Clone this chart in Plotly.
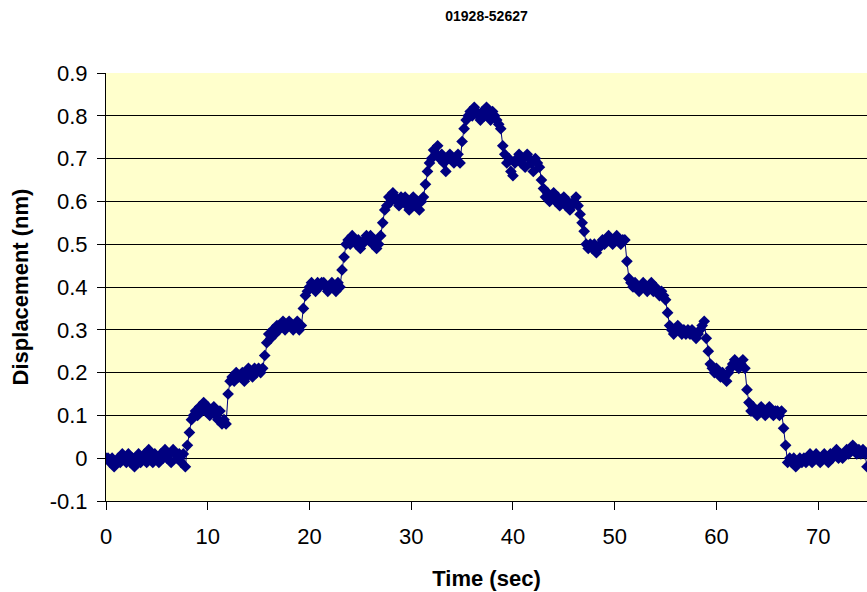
import plotly.graph_objects as go

sample_interval = 0.2  # seconds between samples

seg0 = [0.00, 0.00, -0.01, 0.00, -0.02, -0.01, 0.00, -0.01, 0.01, 0.00,
        -0.01, 0.01, -0.01, 0.00, -0.02, 0.00, 0.01, -0.01, 0.00, 0.01,
        -0.01, 0.02, 0.00, -0.01, 0.01, 0.00, -0.01, 0.01, 0.00, 0.02,
        0.00, 0.01, -0.01, 0.02, 0.01, 0.00, 0.01, -0.01, 0.01, -0.02]
tr0 = [0.03, 0.06, 0.09]
seg1 = [0.10, 0.11, 0.10, 0.12, 0.11, 0.13, 0.11, 0.12, 0.10, 0.11, 0.12, 0.10, 0.09, 0.11, 0.08, 0.09, 0.08]
tr1 = [0.15, 0.18]
seg2 = [0.19, 0.18, 0.20, 0.19, 0.19, 0.20, 0.18, 0.19, 0.21, 0.20, 0.19, 0.21, 0.20, 0.21, 0.20, 0.21]
tr2 = [0.24, 0.27]
seg3 = [0.29, 0.28, 0.30, 0.29, 0.31, 0.30, 0.31, 0.32, 0.30, 0.31, 0.32, 0.31, 0.30, 0.31, 0.32, 0.30, 0.31]
tr3 = [0.35, 0.38]
seg4 = [0.39, 0.40, 0.41, 0.40, 0.39, 0.41, 0.40, 0.41, 0.41, 0.40, 0.39, 0.40, 0.41, 0.40, 0.39, 0.41, 0.40]
tr4 = [0.44, 0.47]
seg5 = [0.50, 0.51, 0.50, 0.52, 0.51, 0.50, 0.51, 0.49, 0.50, 0.51, 0.52, 0.51, 0.52, 0.50, 0.51, 0.49, 0.50, 0.52]
tr5 = [0.55, 0.58]
seg6 = [0.59, 0.61, 0.60, 0.62, 0.61, 0.60, 0.59, 0.61, 0.60, 0.61, 0.59, 0.58, 0.60, 0.61, 0.59, 0.60, 0.58, 0.60, 0.61]
tr6 = [0.64, 0.67]
seg7 = [0.69, 0.70, 0.72, 0.71, 0.73, 0.70, 0.71, 0.69, 0.67, 0.70, 0.71, 0.70, 0.69, 0.70, 0.71, 0.69]
tr7 = [0.74, 0.77]
seg8 = [0.79, 0.80, 0.81, 0.80, 0.82, 0.81, 0.80, 0.79, 0.81, 0.80, 0.82, 0.80, 0.79, 0.81, 0.80, 0.79, 0.78, 0.77]
tr8 = [0.73, 0.71]
seg9 = [0.69, 0.70, 0.67, 0.66, 0.69, 0.70, 0.71, 0.69, 0.70, 0.68, 0.71, 0.70, 0.69, 0.67, 0.70, 0.69, 0.68]
tr9 = [0.65, 0.63]
seg10 = [0.61, 0.62, 0.60, 0.61, 0.62, 0.60, 0.61, 0.59, 0.60, 0.61, 0.59, 0.60, 0.58, 0.59, 0.60, 0.61, 0.59, 0.57]
tr10 = [0.55, 0.53]
seg11 = [0.50, 0.49, 0.50, 0.49, 0.50, 0.48, 0.49, 0.50, 0.51, 0.50, 0.51, 0.52, 0.51, 0.50, 0.51, 0.52, 0.51, 0.50, 0.51, 0.51]
tr11 = [0.46, 0.42]
seg12 = [0.41, 0.40, 0.41, 0.40, 0.39, 0.40, 0.41, 0.40, 0.39, 0.40, 0.41, 0.39, 0.40, 0.39, 0.38, 0.39, 0.38, 0.37]
tr12 = [0.34, 0.31]
seg13 = [0.30, 0.29, 0.30, 0.31, 0.30, 0.29, 0.30, 0.29, 0.30, 0.29, 0.30, 0.29, 0.28, 0.29, 0.30, 0.31, 0.32]
tr13 = [0.28, 0.25]
seg14 = [0.22, 0.21, 0.20, 0.21, 0.20, 0.19, 0.20, 0.19, 0.18, 0.20, 0.21, 0.22, 0.23, 0.22, 0.21, 0.22, 0.23, 0.21]
tr14 = [0.16, 0.13]
seg15 = [0.11, 0.12, 0.11, 0.10, 0.11, 0.12, 0.11, 0.10, 0.11, 0.12, 0.11, 0.10, 0.11, 0.11, 0.10, 0.11]
tr15 = [0.07, 0.03]
seg16 = [-0.01, 0.00, -0.01, 0.00, -0.02, -0.01, 0.00, -0.01, 0.00, -0.01,
         0.00, 0.01, -0.01, 0.00, 0.01, 0.00, -0.01, 0.00, 0.01, 0.00,
         -0.01, 0.01, 0.00, 0.01, 0.02, 0.00, 0.01, 0.00, 0.01, 0.02,
         0.01, 0.02, 0.03, 0.02, 0.01, 0.02, 0.01, 0.02, 0.01, -0.02]

displacement = (seg0 + tr0 + seg1 + tr1 + seg2 + tr2 + seg3 + tr3 + seg4 + tr4 +
                seg5 + tr5 + seg6 + tr6 + seg7 + tr7 + seg8 + tr8 + seg9 + tr9 +
                seg10 + tr10 + seg11 + tr11 + seg12 + tr12 + seg13 + tr13 +
                seg14 + tr14 + seg15 + tr15 + seg16)
time = [round(i * sample_interval, 2) for i in range(len(displacement))]

x_ticks = [0, 10, 20, 30, 40, 50, 60, 70]
y_ticks = [-0.1, 0, 0.1, 0.2, 0.3, 0.4, 0.5, 0.6, 0.7, 0.8, 0.9]
y_labels = ["-0.1", "0", "0.1", "0.2", "0.3", "0.4", "0.5", "0.6", "0.7", "0.8", "0.9"]

navy = "#000080"
font_family = "Liberation Sans, Arial, sans-serif"

fig = go.Figure()
fig.add_trace(go.Scatter(
    x=time, y=displacement, mode="lines+markers",
    line=dict(color=navy, width=1),
    marker=dict(symbol="diamond", size=9, color=navy, line=dict(width=0)),
    showlegend=False,
))

fig.update_layout(
    width=867, height=592,
    margin=dict(l=106, r=0, t=73, b=91),
    paper_bgcolor="white",
    plot_bgcolor="#FFFFCC",
    title=dict(text="<b>01928-52627</b>", x=0.5, xanchor="center", xref="paper",
               y=1 - 16 / 592, yanchor="middle",
               font=dict(family=font_family, size=14, color="black")),
    font=dict(family=font_family, color="black"),
)
fig.update_xaxes(
    range=[0, 74.8], tickvals=x_ticks, ticktext=[str(v) for v in x_ticks],
    showgrid=False, zeroline=False,
    showline=True, linecolor="black", linewidth=1,
    ticks="outside", ticklen=8, tickcolor="black",
    tickfont=dict(size=22), ticklabelstandoff=8,
    title=dict(text="<b>Time (sec)</b>", font=dict(size=22), standoff=22),
)
fig.update_yaxes(
    range=[-0.1, 0.9], tickvals=y_ticks, ticktext=y_labels,
    showgrid=True, gridcolor="black", gridwidth=1,
    zeroline=False,
    showline=True, linecolor="black", linewidth=1, mirror=False,
    ticks="outside", ticklen=8, tickcolor="black",
    tickfont=dict(size=22), ticklabelstandoff=5,
    title=dict(text="<b>Displacement (nm)</b>", font=dict(size=22), standoff=14),
)

fig.write_html("out.html")
